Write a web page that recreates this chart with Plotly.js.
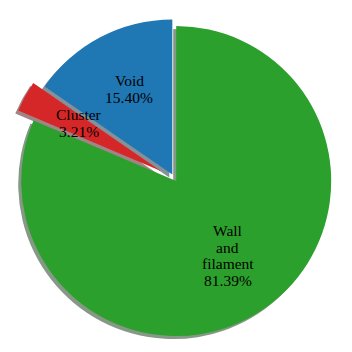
<!DOCTYPE html>
<html>
<head>
<meta charset="utf-8">
<script src="https://cdn.plot.ly/plotly-3.0.1.min.js"></script>
<style>html,body{margin:0;padding:0;background:#fff;}#chart{width:352px;height:352px;}</style>
</head>
<body>
<div id="chart"></div>
<script>
// Data
var labels = ["Void", "Cluster", "Wall and filament"];
var labelLines = [["Void"], ["Cluster"], ["Wall", "and", "filament"]];
var values = [15.40, 3.21, 81.39];
var pctLabels = ["15.40%", "3.21%", "81.39%"];
var pulls = [0.03, 0.1, 0.02];
var colors = ["#1f77b4", "#d62728", "#2ca02c"];

// Geometry (pixels)
var W = 352, H = 352;
var cx = 174.5, cy = 178.5, R = 155;
var shadowOff = 3;
var maxPull = Math.max.apply(null, pulls);
var half = R * (1 + maxPull);

function dom(cxp, cyp) {
  return {
    x: [(cxp - half) / W, (cxp + half) / W],
    y: [(H - cyp - half) / H, (H - cyp + half) / H]
  };
}

function shadowColor(hex) {
  var r = parseInt(hex.substr(1, 2), 16), g = parseInt(hex.substr(3, 2), 16), b = parseInt(hex.substr(5, 2), 16);
  function mix(c) { return Math.round(0.5 * 0.3 * c + 0.5 * 255); }
  return "rgb(" + mix(r) + "," + mix(g) + "," + mix(b) + ")";
}

var total = values.reduce(function (a, b) { return a + b; }, 0);
// plotly counterclockwise: first slice ends at rotation; shift so it starts at 12 o'clock
var rot = -values[0] / total * 360;

var shadow = {
  type: "pie", values: values, labels: labels, sort: false, direction: "counterclockwise",
  rotation: rot, pull: pulls, textinfo: "none", hoverinfo: "skip", showlegend: false,
  marker: { colors: colors.map(shadowColor), line: { width: 0 } },
  domain: dom(cx - shadowOff, cy + shadowOff)
};
var main = {
  type: "pie", values: values, labels: labels, sort: false, direction: "counterclockwise",
  rotation: rot, pull: pulls, textinfo: "none", showlegend: false,
  marker: { colors: colors, line: { width: 0 } },
  domain: dom(cx, cy)
};

// label annotations at 0.6 R (+ pull) along each slice's mid-angle (counterclockwise from top)
var annotations = [];
var cum = 0;
var lineSpacing = 16.7;
for (var i = 0; i < values.length; i++) {
  var mid = (90 + (cum + values[i] / 2) / total * 360) * Math.PI / 180;
  cum += values[i];
  var r = (0.6 + pulls[i]) * R;
  var px = cx + r * Math.cos(mid);
  var py = cy - r * Math.sin(mid) - 3;
  var lines = labelLines[i].concat([pctLabels[i]]);
  var n = lines.length;
  for (var j = 0; j < n; j++) {
    annotations.push({
      x: px / W, y: 1 - py / H, xref: "paper", yref: "paper",
      text: lines[j], showarrow: false, xanchor: "center", yanchor: "middle",
      yshift: -(j - (n - 1) / 2) * lineSpacing,
      font: { family: "'Liberation Serif', 'Times New Roman', serif", size: 15.5, color: "#000" }
    });
  }
}

var layout = {
  width: W, height: H,
  margin: { l: 0, r: 0, t: 0, b: 0 },
  paper_bgcolor: "#fff", plot_bgcolor: "#fff",
  showlegend: false,
  annotations: annotations
};

Plotly.newPlot("chart", [shadow, main], layout, { displayModeBar: false, staticPlot: true });
</script>
</body>
</html>
